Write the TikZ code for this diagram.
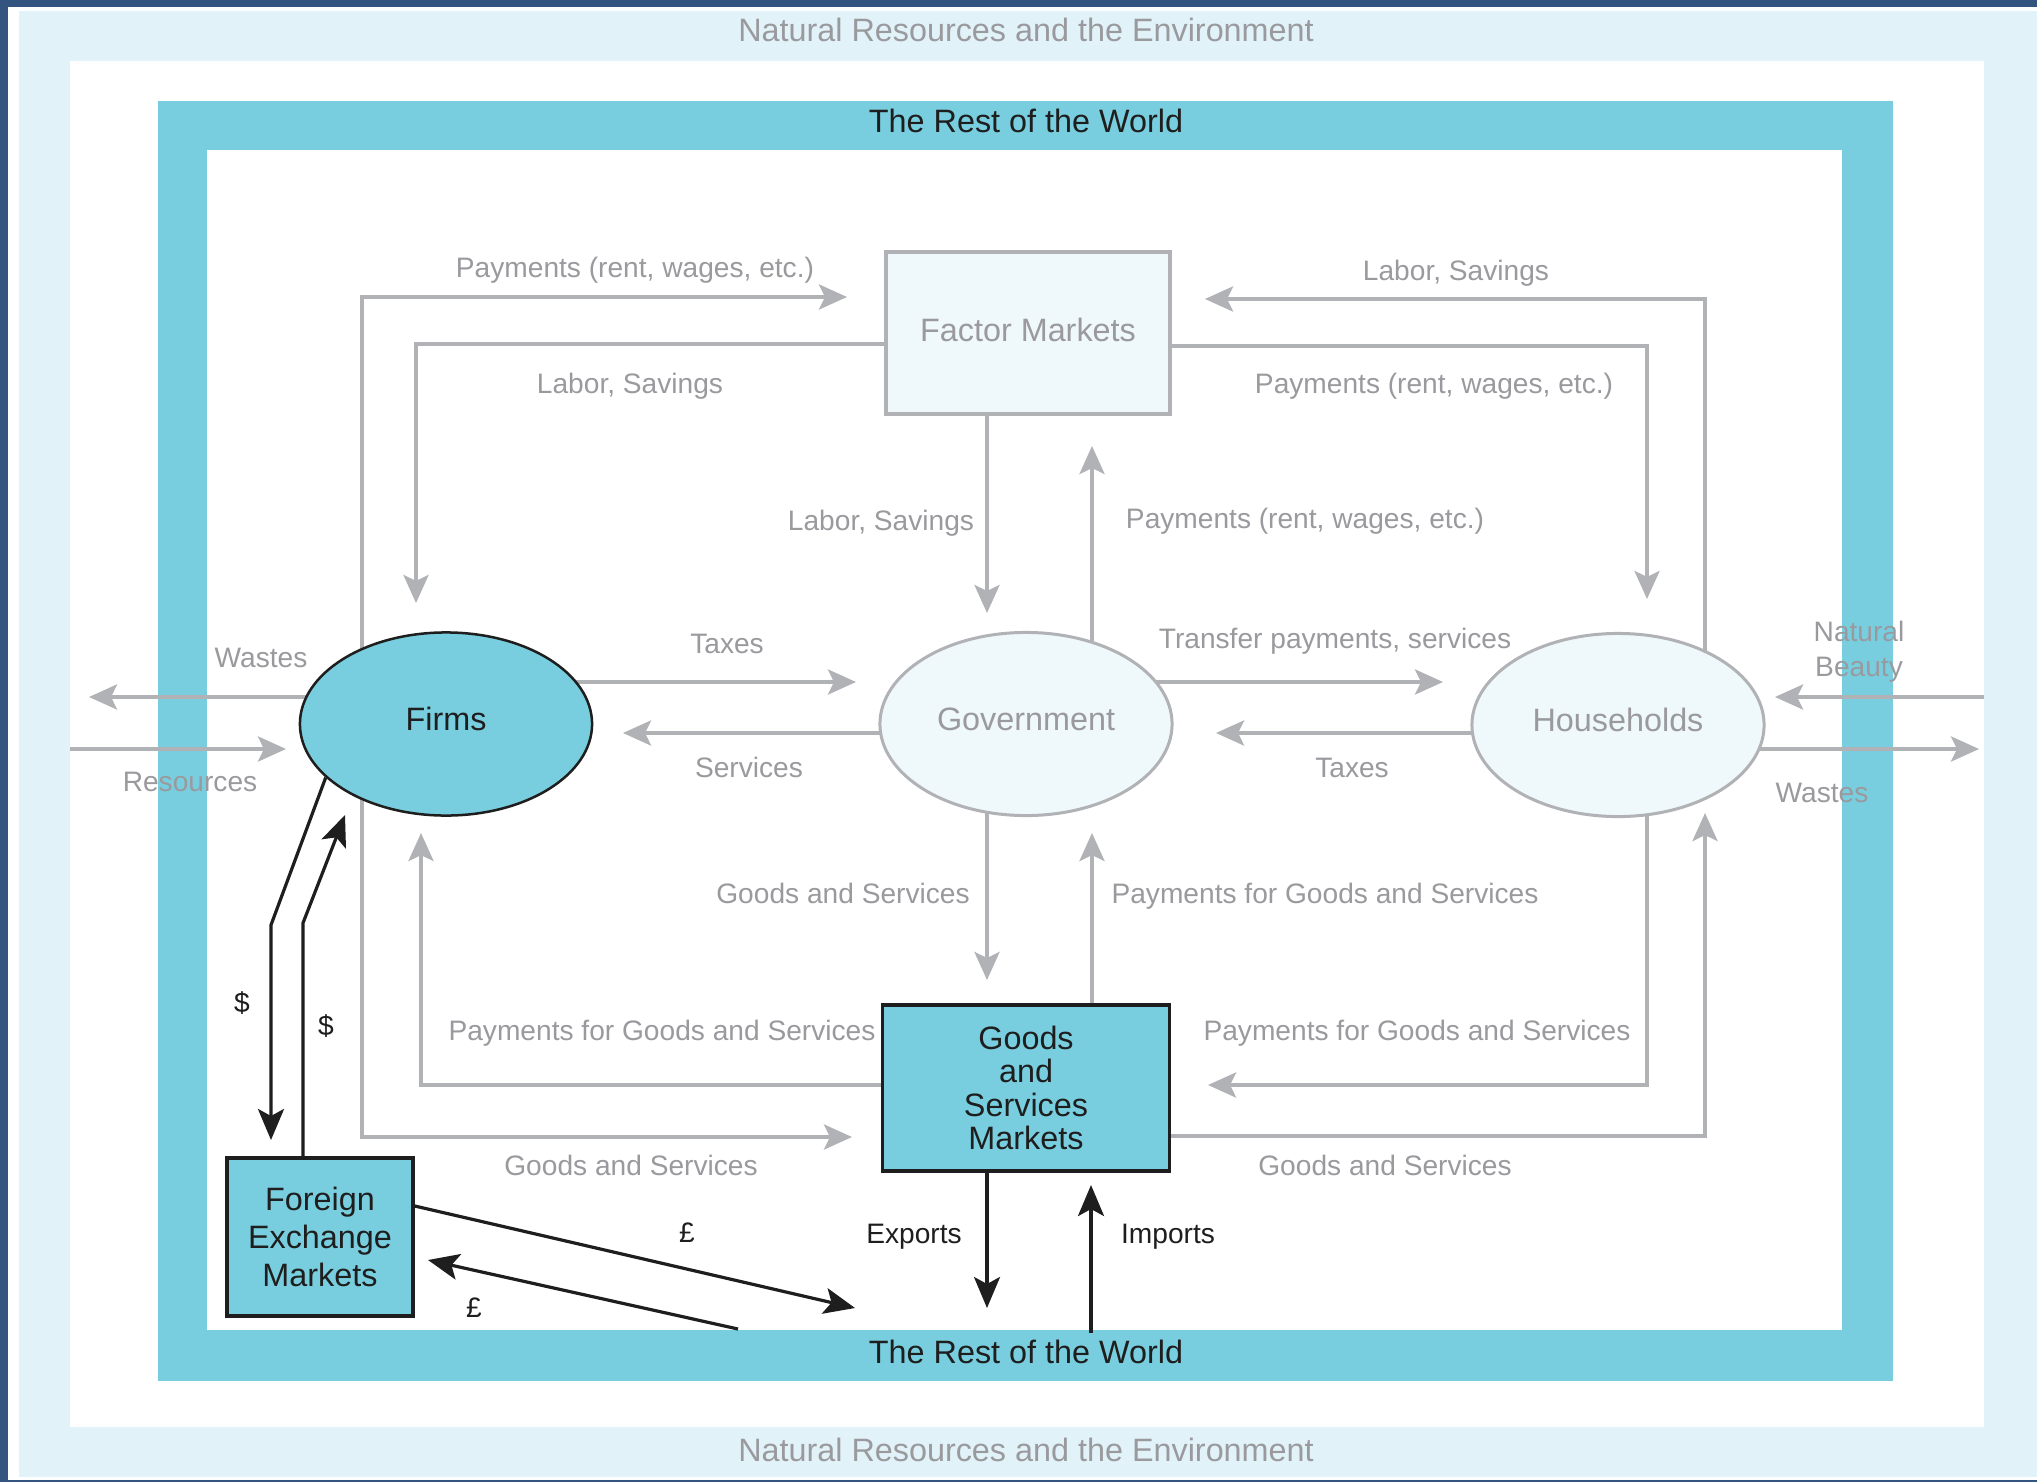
\documentclass[tikz,border=0pt]{standalone}
\usepackage{fontspec}
\setmainfont{Liberation Sans}
\usetikzlibrary{arrows.meta,shapes.geometric,positioning}
\definecolor{navy1}{HTML}{33547F}
\definecolor{sky1}{HTML}{E1F3F8}
\definecolor{teal1}{HTML}{78CEDF}
\definecolor{pale1}{HTML}{EFF8FB}
\definecolor{grey1}{HTML}{B1B2B6}
\definecolor{grey2}{HTML}{9A9A9E}
\definecolor{ink1}{HTML}{1E1E1E}
\pgfdeclarelayer{back}
\pgfsetlayers{back,main}
\tikzset{
  flow/.style={draw=grey1,line width=0.4mm,>={Stealth[length=2.8mm,width=2.5mm,inset=0.6mm]}},
  money/.style={draw=ink1,line width=0.32mm,>={Stealth[length=3.1mm,width=2.6mm,inset=0.7mm]}},
  lab/.style={text=grey2,font=\fontsize{8}{9.6}\selectfont,inner sep=0pt,text height=5.7pt,text depth=0pt},
  blab/.style={text=ink1,font=\fontsize{8}{9.6}\selectfont,inner sep=0pt,text height=5.7pt,text depth=0pt},
  sector/.style={ellipse,minimum width=2.92cm,minimum height=1.83cm,inner sep=0pt,text height=6.6pt,text depth=3pt,font=\fontsize{9.2}{11}\selectfont},
  market/.style={rectangle,inner sep=0pt,align=center,line width=0.35mm},
  ring/.style={text=ink1,font=\fontsize{9.2}{11}\selectfont,inner sep=0pt,text height=6.6pt,text depth=0pt},
  env/.style={text=grey2,font=\fontsize{9.2}{11}\selectfont,inner sep=0pt,text height=6.6pt,text depth=0pt}
}

\begin{document}
\begin{tikzpicture}[x=0.01cm,y=-0.01cm]

\useasboundingbox (0,0) rectangle (2037,1482);

\node (fm) at (1028,333) [market,fill=pale1,draw=grey1,text=grey2,minimum width=2.84cm,minimum height=1.62cm,text height=6.6pt,text depth=1.5pt,font=\fontsize{9.2}{11}\selectfont] {Factor Markets};
\node (firms) at (446,724) [sector,fill=teal1,draw=ink1,line width=0.25mm,text=ink1] {Firms};
\node (gov) at (1026,724) [sector,fill=pale1,draw=grey1,line width=0.3mm,text=grey2] {Government};
\node (hh) at (1618,725) [sector,fill=pale1,draw=grey1,line width=0.3mm,text=grey2] {Households};
\node (gsm) at (1026,1088) [market,fill=teal1,draw=ink1,text=ink1,minimum width=2.87cm,minimum height=1.66cm,font=\fontsize{9.2}{9.5}\selectfont] {Goods\\and\\Services\\Markets};
\node (fx) at (320,1237) [market,fill=teal1,draw=ink1,text=ink1,minimum width=1.86cm,minimum height=1.58cm,font=\fontsize{9.2}{10.9}\selectfont] {Foreign\\Exchange\\Markets};

\coordinate (tFMa) at (847,297);
\coordinate (tGSa) at (852,1137);
\coordinate (tFIa) at (416,603);
\coordinate (tFMb) at (1205,299);
\coordinate (tHHa) at (1647,599);
\coordinate (tGVa) at (987,613);
\coordinate (tFMc) at (1092,446);
\coordinate (tGVb) at (856,682);
\coordinate (tFIb) at (623,733);
\coordinate (tHHb) at (1443,682);
\coordinate (tGVc) at (1216,733);
\coordinate (tGSb) at (987,980);
\coordinate (tGVd) at (1092,833);
\coordinate (tFIc) at (421,833);
\coordinate (tGSc) at (1208,1085);
\coordinate (tHHc) at (1705,813);
\coordinate (tOUTa) at (89,697);
\coordinate (sRes) at (70,749);
\coordinate (tFId) at (286,749);
\coordinate (sBeauty) at (1984,697);
\coordinate (tHHd) at (1775,697);
\coordinate (tOUTb) at (1979,749);
\coordinate (tFXa) at (271,1140);
\coordinate (tFIe) at (345,815);
\coordinate (tROWa) at (855,1308);
\coordinate (sRow) at (738,1329);
\coordinate (tFXb) at (428,1260);
\coordinate (tROWb) at (987,1308);
\coordinate (sImp) at (1091,1333);
\coordinate (tGSd) at (1091,1185);

\begin{pgfonlayer}{back}
\fill[navy1] (0,0) rectangle (2037,1482);
\fill[white] (8,7) rectangle (2037,1480);
\fill[sky1] (19,11) rectangle (2037,1477);
\fill[white] (70,61) rectangle (1984,1427);
\fill[teal1] (158,101) rectangle (1893,1381);
\fill[white] (207,150) rectangle (1842,1330);

\draw[flow,<->] (tFMa) -| (362,724) |- (tGSa);
\draw[flow,->] (fm.west |- 0,344) -| (tFIa);
\draw[flow,->] (hh.center -| 1705,0) |- (tFMb);
\draw[flow,->] (fm.east |- 0,346) -| (tHHa);
\draw[flow,->] (fm.center -| tGVa) -- (tGVa);
\draw[flow,->] (gov.center -| tFMc) -- (tFMc);
\draw[flow,->] (firms.center |- tGVb) -- (tGVb);
\draw[flow,->] (gov.center |- tFIb) -- (tFIb);
\draw[flow,->] (gov.center |- tHHb) -- (tHHb);
\draw[flow,->] (hh.center |- tGVc) -- (tGVc);
\draw[flow,->] (gov.center -| tGSb) -- (tGSb);
\draw[flow,->] (gsm.center -| tGVd) -- (tGVd);
\draw[flow,->] (gsm.center |- 0,1085) -| (tFIc);
\draw[flow,->] (hh.center -| 1647,0) |- (tGSc);
\draw[flow,->] (gsm.center |- 0,1136) -| (tHHc);
\draw[flow,->] (firms.center |- tOUTa) -- (tOUTa);
\draw[flow,->] (sRes) -- (tFId);
\draw[flow,->] (sBeauty) -- (tHHd);
\draw[flow,->] (hh.center |- tOUTb) -- (tOUTb);

\draw[money,->] (firms.204) -- (271,925) -- (tFXa);
\draw[money,->] (fx.north -| 303,0) -- (303,923) -- (tFIe);
\draw[money,->] (fx.east |- 0,1206) -- (tROWa);
\draw[money,->] (sRow) -- (tFXb);
\draw[money,->] (gsm.south -| tROWb) -- (tROWb);
\draw[money,->] (sImp) -- (tGSd);
\end{pgfonlayer}

\node (envtop) at (1026,30) [env] {Natural Resources and the Environment};
\node (envbot) at (1026,1450) [env] {Natural Resources and the Environment};
\node (rowtop) at (1026,121) [ring] {The Rest of the World};
\node (rowbot) at (1026,1352) [ring] {The Rest of the World};

\node (l1) at (635,267) [lab] {Payments (rent, wages, etc.)};
\node (l2) at (630,383) [lab] {Labor, Savings};
\node (l3) at (1456,270) [lab] {Labor, Savings};
\node (l4) at (1434,383) [lab] {Payments (rent, wages, etc.)};
\node (l5) at (881,520) [lab] {Labor, Savings};
\node (l6) at (1305,518) [lab] {Payments (rent, wages, etc.)};
\node (l7) at (727,643) [lab] {Taxes};
\node (l8) at (749,767) [lab] {Services};
\node (l9) at (1335,638) [lab] {Transfer payments, services};
\node (l10) at (1352,767) [lab] {Taxes};
\node (l11) at (843,893) [lab] {Goods and Services};
\node (l12) at (1325,893) [lab] {Payments for Goods and Services};
\node (l13) at (662,1030) [lab] {Payments for Goods and Services};
\node (l14) at (1417,1030) [lab] {Payments for Goods and Services};
\node (l15) at (631,1165) [lab] {Goods and Services};
\node (l16) at (1385,1165) [lab] {Goods and Services};
\node (l17) at (261,657) [lab] {Wastes};
\node (l18) at (190,781) [lab] {Resources};
\node (l19) at (1859,652) [lab,align=center,text height=,text depth=,font=\fontsize{8}{9.9}\selectfont] {Natural\\Beauty};
\node (l20) at (1822,792) [lab] {Wastes};

\node (m1) at (242,1002) [blab] {\$};
\node (m2) at (326,1025) [blab] {\$};
\node (m3) at (687,1232) [blab] {£};
\node (m4) at (474,1307) [blab] {£};
\node (m5) at (914,1233) [blab] {Exports};
\node (m6) at (1168,1233) [blab] {Imports};

\end{tikzpicture}
\end{document}
